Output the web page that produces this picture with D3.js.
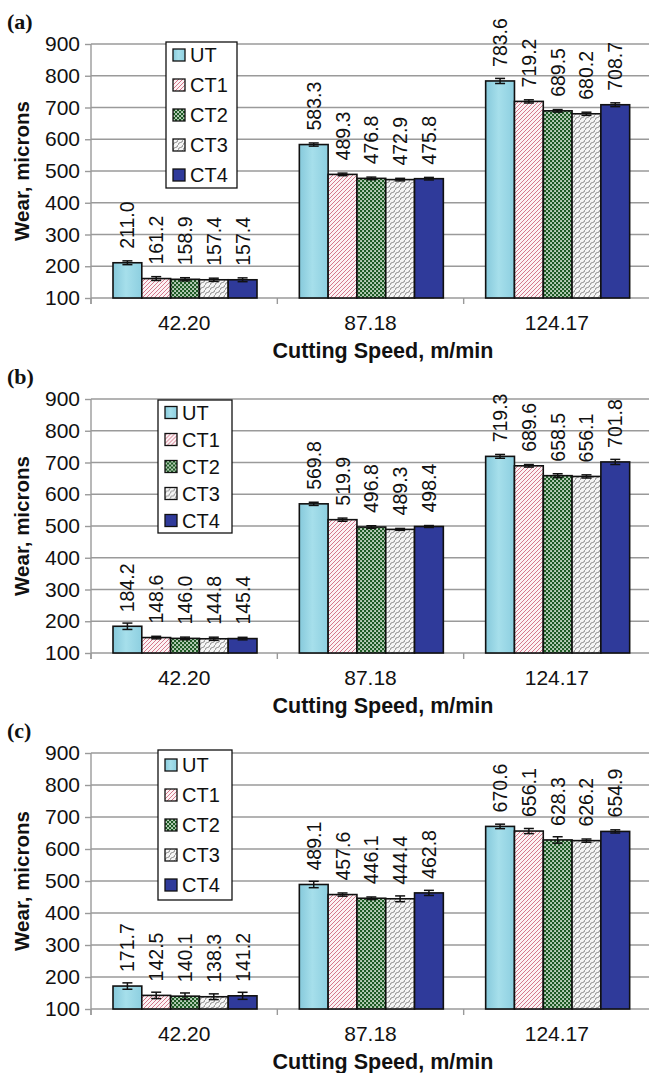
<!DOCTYPE html>
<html>
<head>
<meta charset="utf-8">
<script src="https://cdn.jsdelivr.net/npm/d3@7"></script>
<style>
  body { margin: 0; background: #fff; }
  text { font-family: "Liberation Sans", Arial, sans-serif; fill: #111; }
</style>
</head>
<body>
<script>
// chart data
const categories = ['42.20', '87.18', '124.17'];
const series = ['UT', 'CT1', 'CT2', 'CT3', 'CT4'];
const panelLabels = ['(a)', '(b)', '(c)'];
const yTicks = [100, 200, 300, 400, 500, 600, 700, 800, 900];

// wear per series (rows) and cutting speed (columns)
const wearA = [[211.0, 583.3, 783.6], [161.2, 489.3, 719.2], [158.9, 476.8, 689.5], [157.4, 472.9, 680.2], [157.4, 475.8, 708.7]];
const wearB = [[184.2, 569.8, 719.3], [148.6, 519.9, 689.6], [146.0, 496.8, 658.5], [144.8, 489.3, 656.1], [145.4, 498.4, 701.8]];
const wearC = [[171.7, 489.1, 670.6], [142.5, 457.6, 656.1], [140.1, 446.1, 628.3], [138.3, 444.4, 626.2], [141.2, 462.8, 654.9]];

// error bar half-widths
const errA = [[6, 5, 8], [6, 4, 5], [5, 4, 4], [5, 4, 5], [6, 4, 6]];
const errB = [[10, 5, 6], [4, 5, 4], [4, 4, 6], [5, 3, 5], [4, 3, 8]];
const errC = [[10, 10, 7], [10, 5, 8], [10, 4, 10], [9, 9, 5], [11, 8, 5]];

const wear = [wearA, wearB, wearC];
const errs = [errA, errB, errC];

// layout
const W = 649, H = 1073;
const left = 91, right = 650;
const tops = [44, 399, 753];
const heights = [254, 254, 256];
const legends = [
  {x: 166, y: 42, w: 71, h: 146, step: 30},
  {x: 158, y: 400, w: 74, h: 133, step: 27},
  {x: 158, y: 750, w: 74, h: 150, step: 30}
];

const svg = d3.select('body').append('svg')
  .attr('width', W)
  .attr('height', H);

const defs = svg.append('defs');

// UT: light blue with a soft sheen
const grad = defs.append('linearGradient').attr('id', 'fillUT')
  .attr('x1', 0).attr('x2', 1).attr('y1', 0).attr('y2', 0);
grad.append('stop').attr('offset', '0%').attr('stop-color', '#86c9db');
grad.append('stop').attr('offset', '45%').attr('stop-color', '#a6dfeb');
grad.append('stop').attr('offset', '100%').attr('stop-color', '#8dcfe0');

// CT1: pink diagonal hatch
const p1 = defs.append('pattern').attr('id', 'fillCT1')
  .attr('patternUnits', 'userSpaceOnUse').attr('width', 4).attr('height', 4);
p1.append('rect').attr('width', 4).attr('height', 4).attr('fill', '#fcf2f4');
p1.append('path').attr('d', 'M0,4 L4,0 M-1,1 L1,-1 M3,5 L5,3')
  .attr('stroke', '#cf6a80').attr('stroke-width', 0.9);

// CT2: green checker
const p2 = defs.append('pattern').attr('id', 'fillCT2')
  .attr('patternUnits', 'userSpaceOnUse').attr('width', 4).attr('height', 4);
p2.append('rect').attr('width', 4).attr('height', 4).attr('fill', '#1d5a24');
p2.append('rect').attr('x', 0.2).attr('y', 0.2).attr('width', 1.7).attr('height', 1.7).attr('fill', '#e4efe4');
p2.append('rect').attr('x', 2.2).attr('y', 2.2).attr('width', 1.7).attr('height', 1.7).attr('fill', '#e4efe4');

// CT3: grey wavy lines
const p3 = defs.append('pattern').attr('id', 'fillCT3')
  .attr('patternUnits', 'userSpaceOnUse').attr('width', 5).attr('height', 5);
p3.append('rect').attr('width', 5).attr('height', 5).attr('fill', '#f5f5f5');
p3.append('path').attr('d', 'M0,5 Q0.5,2.5 2.5,2.5 T5,0')
  .attr('fill', 'none').attr('stroke', '#7a7a7a').attr('stroke-width', 0.9);

const fills = {UT: 'url(#fillUT)', CT1: 'url(#fillCT1)', CT2: 'url(#fillCT2)', CT3: 'url(#fillCT3)', CT4: '#2f3a9a'};

function drawPanel(i) {
  const top = tops[i];
  const bottom = top + heights[i];
  const g = svg.append('g').attr('class', 'panel');

  const y = d3.scaleLinear().domain([100, 900]).range([bottom, top]);
  const x0 = d3.scaleBand().domain(categories).range([left, right]);
  const x1 = d3.scaleBand().domain(series).range([22, 166]);

  // gridlines
  g.append('g').selectAll('line')
    .data(yTicks)
    .enter()
    .append('line')
    .attr('x1', left).attr('x2', W)
    .attr('y1', d => y(d)).attr('y2', d => y(d))
    .attr('stroke', '#9a9a9a')
    .attr('stroke-width', 1.4);

  // y axis
  const yAxis = g.append('g')
    .attr('transform', `translate(${left},0)`)
    .call(d3.axisLeft(y).tickValues(yTicks).tickSize(6).tickSizeOuter(0).tickPadding(5));
  yAxis.select('.domain').attr('stroke', '#9a9a9a').attr('stroke-width', 1.4)
    .attr('d', `M0,${top}V${bottom + 6}`);
  yAxis.selectAll('.tick line').attr('stroke', '#9a9a9a').attr('stroke-width', 1.4);
  yAxis.selectAll('.tick text')
    .style('font-size', '21px')
    .style('font-family', '"Liberation Sans", Arial, sans-serif')
    .attr('fill', '#111');

  // x axis: ticks at category boundaries, labels at centres
  const bounds = categories.map(c => x0(c)).concat([right]);
  g.append('g').selectAll('line')
    .data(bounds)
    .enter()
    .append('line')
    .attr('x1', d => d).attr('x2', d => d)
    .attr('y1', bottom).attr('y2', bottom + 6)
    .attr('stroke', '#9a9a9a')
    .attr('stroke-width', 1.4);

  const xAxis = g.append('g')
    .attr('transform', `translate(0,${bottom})`)
    .call(d3.axisBottom(x0).tickSize(0).tickPadding(17));
  xAxis.select('.domain').remove();
  xAxis.selectAll('.tick text')
    .style('font-size', '21px')
    .style('font-family', '"Liberation Sans", Arial, sans-serif')
    .attr('fill', '#111');

  // bars
  const rows = [];
  series.forEach((s, si) => {
    categories.forEach((c, ci) => {
      rows.push({s: s, c: c, v: wear[i][si][ci], e: errs[i][si][ci]});
    });
  });

  const bw = x1.bandwidth();
  g.append('g').selectAll('rect')
    .data(rows)
    .enter()
    .append('rect')
    .attr('x', d => x0(d.c) + x1(d.s))
    .attr('y', d => y(d.v))
    .attr('width', bw)
    .attr('height', d => y(100) - y(d.v))
    .attr('fill', d => fills[d.s])
    .attr('stroke', '#111')
    .attr('stroke-width', 1.6);

  // error bars
  const eb = g.append('g').selectAll('g')
    .data(rows)
    .enter()
    .append('g')
    .attr('stroke', '#111')
    .attr('stroke-width', 1.5);
  const cx = d => x0(d.c) + x1(d.s) + bw / 2;
  eb.append('line')
    .attr('x1', cx).attr('x2', cx)
    .attr('y1', d => y(d.v - d.e)).attr('y2', d => y(d.v + d.e));
  eb.append('line')
    .attr('x1', d => cx(d) - 5).attr('x2', d => cx(d) + 5)
    .attr('y1', d => y(d.v + d.e)).attr('y2', d => y(d.v + d.e));
  eb.append('line')
    .attr('x1', d => cx(d) - 5).attr('x2', d => cx(d) + 5)
    .attr('y1', d => y(d.v - d.e)).attr('y2', d => y(d.v - d.e));

  // value labels, rotated
  g.append('g').selectAll('text')
    .data(rows)
    .enter()
    .append('text')
    .attr('transform', d => `translate(${cx(d)},${y(d.v) - 14}) rotate(-90)`)
    .attr('text-anchor', 'start')
    .attr('dy', '0.36em')
    .style('font-size', '19.5px')
    .text(d => d.v.toFixed(1));

  // axis titles
  g.append('text')
    .attr('transform', `translate(22,${(top + bottom) / 2}) rotate(-90)`)
    .attr('text-anchor', 'middle')
    .attr('dy', '0.36em')
    .style('font-size', '20.5px')
    .style('font-weight', 'bold')
    .text('Wear, microns');

  g.append('text')
    .attr('x', 383)
    .attr('y', bottom + 60)
    .attr('text-anchor', 'middle')
    .style('font-size', '21.5px')
    .style('font-weight', 'bold')
    .text('Cutting Speed, m/min');

  // panel label
  g.append('text')
    .attr('x', 7)
    .attr('y', top - 15)
    .style('font-family', '"Liberation Serif", "Times New Roman", serif')
    .style('font-size', '22px')
    .style('font-weight', 'bold')
    .text(panelLabels[i]);

  // legend
  const L = legends[i];
  const lg = g.append('g').attr('transform', `translate(${L.x},${L.y})`);
  lg.append('rect')
    .attr('width', L.w).attr('height', L.h)
    .attr('fill', '#fff')
    .attr('stroke', '#111')
    .attr('stroke-width', 1.3);
  const item = lg.selectAll('g.item')
    .data(series)
    .enter()
    .append('g')
    .attr('class', 'item')
    .attr('transform', (d, k) => `translate(7,${(L.h - L.step * 4) / 2 + k * L.step})`);
  item.append('rect')
    .attr('x', 0).attr('y', -6)
    .attr('width', 12).attr('height', 12)
    .attr('fill', d => fills[d])
    .attr('stroke', '#111')
    .attr('stroke-width', 1.3);
  item.append('text')
    .attr('x', 17)
    .attr('dy', '0.36em')
    .style('font-size', '20px')
    .text(d => d);
}

[0, 1, 2].forEach(drawPanel);
</script>
</body>
</html>
